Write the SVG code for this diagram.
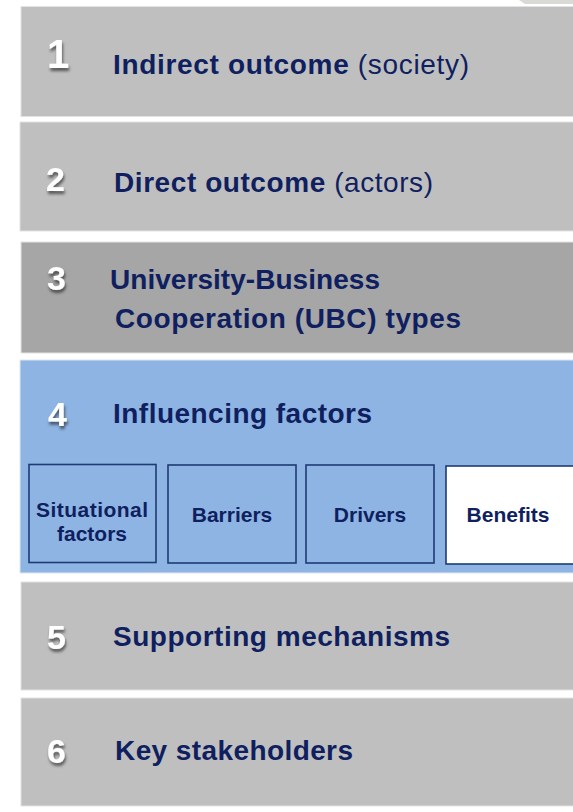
<svg xmlns="http://www.w3.org/2000/svg" width="573" height="812" viewBox="0 0 573 812">
  <defs>
    <filter id="shadow" x="-50%" y="-50%" width="200%" height="200%">
      <feDropShadow dx="1" dy="3" stdDeviation="1.4" flood-color="#000" flood-opacity="0.55"/>
    </filter>
  </defs>
  <style>
    .band { fill: #bfbfbf; stroke: #e2e2e2; stroke-width: 1; }
    .band3 { fill: #a6a6a6; stroke: #e2e2e2; stroke-width: 1; }
    .band4 { fill: #8eb4e3; stroke: #dfe8f3; stroke-width: 1; }
    .sub { fill: #8eb4e3; stroke: #1f3b73; stroke-width: 1.6; }
    .subw { fill: #ffffff; stroke: #1f3b73; stroke-width: 1.6; }
    .num { font-family: "Liberation Sans", Arial, sans-serif; font-weight: bold; font-size: 34px; fill: #ffffff; filter: url(#shadow); }
    .one { font-size: 40px; }
    .t { font-family: "Liberation Sans", Arial, sans-serif; font-weight: bold; font-size: 28px; fill: #0f1f60; }
    .reg { font-weight: normal; }
    .st { font-family: "Liberation Sans", Arial, sans-serif; font-weight: bold; font-size: 21px; fill: #0f1f60; text-anchor: middle; }
  </style>
  <rect width="573" height="812" fill="#ffffff"/>
  <polygon points="519,0 573,0 573,4 525,4" fill="#d9d9d6"/>

  <g id="node1">
    <rect class="band" x="21" y="6.5" width="560" height="110"/>
    <text class="num one" x="47" y="68">1</text>
    <text class="t" x="113" y="74" textLength="356">Indirect outcome <tspan class="reg">(society)</tspan></text>
  </g>

  <g id="node2">
    <rect class="band" x="20" y="122" width="560" height="109"/>
    <text class="num" x="46" y="191">2</text>
    <text class="t" x="114" y="192" textLength="319">Direct outcome <tspan class="reg">(actors)</tspan></text>
  </g>

  <g id="node3">
    <rect class="band3" x="21" y="242" width="560" height="111"/>
    <text class="num" x="47" y="290">3</text>
    <text class="t" x="110" y="289" textLength="270">University-Business</text>
    <text class="t" x="115" y="328" textLength="346">Cooperation (UBC) types</text>
  </g>

  <g id="node4">
    <rect class="band4" x="20" y="360" width="560" height="213"/>
    <text class="num" x="48" y="426">4</text>
    <text class="t" x="113" y="423" textLength="259">Influencing factors</text>
  </g>

  <g id="node4a">
    <rect class="sub" x="29" y="464.5" width="127" height="98"/>
    <text class="st" x="92" y="517" textLength="112">Situational</text>
    <text class="st" x="92" y="541">factors</text>
  </g>
  <g id="node4b">
    <rect class="sub" x="168" y="465" width="128" height="98"/>
    <text class="st" x="232" y="522">Barriers</text>
  </g>
  <g id="node4c">
    <rect class="sub" x="306" y="465" width="128" height="98"/>
    <text class="st" x="370" y="522">Drivers</text>
  </g>
  <g id="node4d">
    <rect class="subw" x="446" y="466" width="140" height="98"/>
    <text class="st" x="508" y="522">Benefits</text>
  </g>

  <g id="node5">
    <rect class="band" x="21" y="582" width="560" height="108"/>
    <text class="num" x="47" y="649">5</text>
    <text class="t" x="113" y="646" textLength="337">Supporting mechanisms</text>
  </g>

  <g id="node6">
    <rect class="band" x="21" y="698" width="560" height="108"/>
    <text class="num" x="47" y="763">6</text>
    <text class="t" x="115" y="760" textLength="238">Key stakeholders</text>
  </g>

  <g id="connectors"></g>
</svg>
